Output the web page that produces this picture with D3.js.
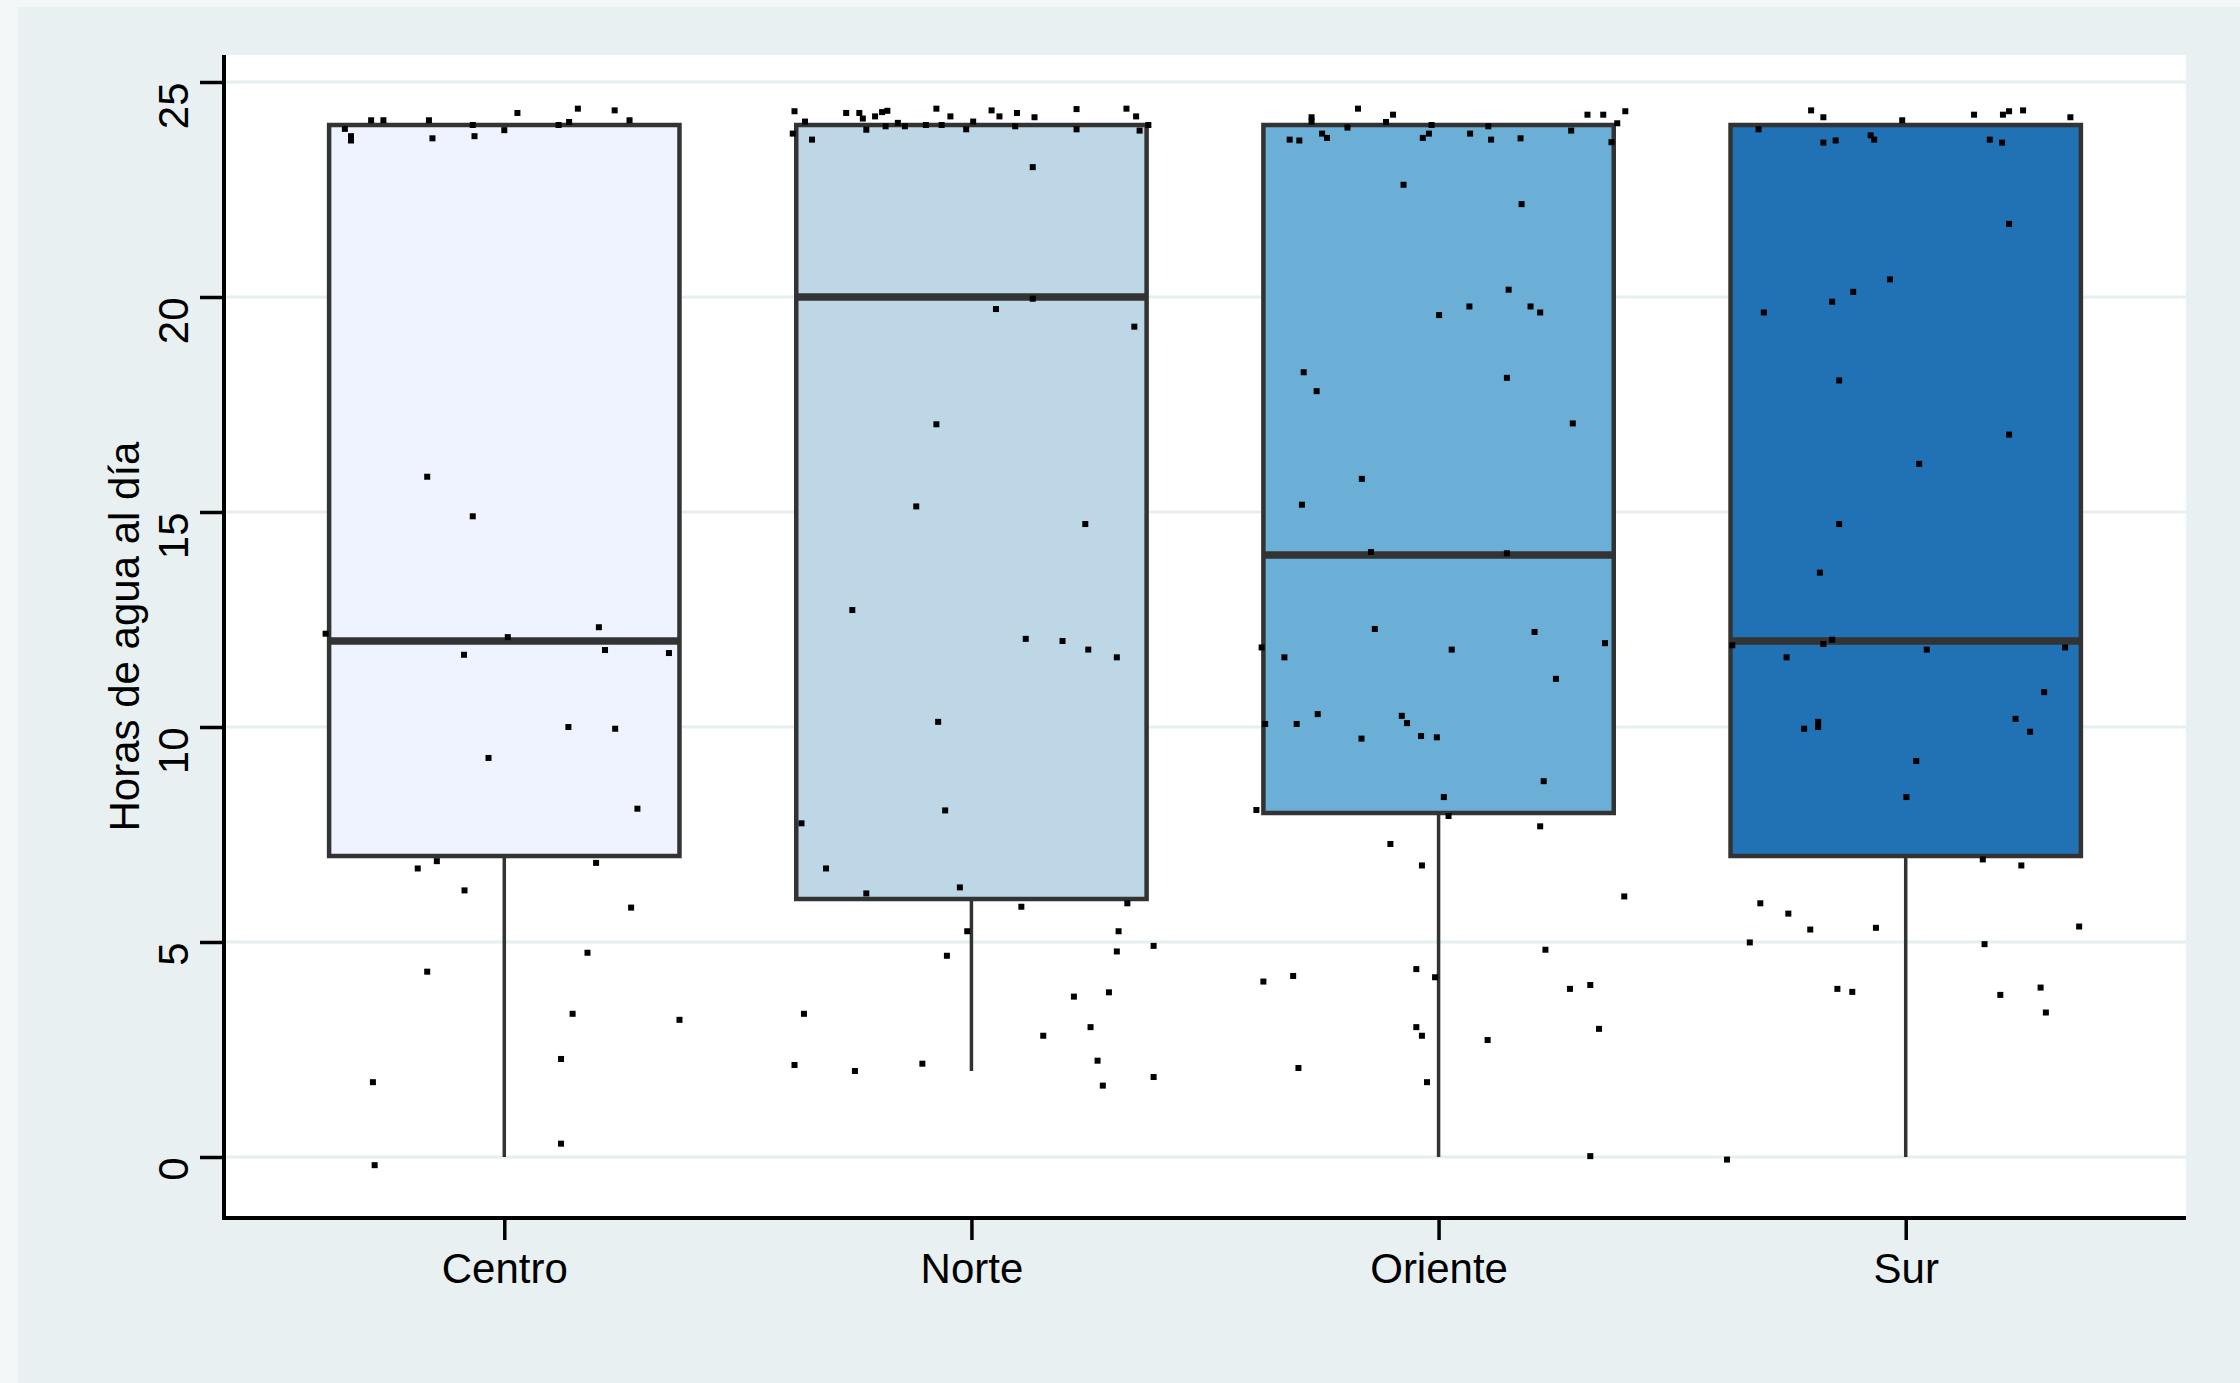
<!DOCTYPE html>
<html>
<head>
<meta charset="utf-8">
<script src="https://cdn.jsdelivr.net/npm/d3@7"></script>
<style>
  html, body { margin: 0; padding: 0; background: #f3f7f8; }
  svg { display: block; }
  text { font-family: "Liberation Sans", Arial, sans-serif; fill: #000; }
</style>
</head>
<body>
<svg id="chart" width="2240" height="1383"></svg>
<script>
// ---------- data ----------
const categories = ["Centro", "Norte", "Oriente", "Sur"];
const q1 = [7, 6, 8, 7];
const medians = [12, 20, 14, 12];
const q3 = [24, 24, 24, 24];
const whiskerLow = [0, 2, 0, 0];
const yTicks = [0, 5, 10, 15, 20, 25];
const yTitle = "Horas de agua al día";
const boxColors = ["#eff3ff", "#bdd7e7", "#6baed6", "#2171b5"];

// jittered observations: [jitter (fraction of half box width), hours]
const ptsCentro = [
  [-0.91,23.91],[-0.875,23.74],[-0.875,23.64],[-0.76,24.11],[-0.69,24.11],[-0.43,24.11],[-0.41,23.69],
  [-0.18,24.0],[-0.17,23.74],[0.0,23.88],[0.075,24.28],[0.31,24.0],[0.37,24.07],[0.42,24.38],[0.63,24.34],
  [0.715,24.11],[-0.44,15.82],[-0.18,14.9],[-1.02,12.17],[0.02,12.09],[0.54,12.32],
  [-0.23,11.68],[0.575,11.79],[0.94,11.72],[0.366,10.0],[0.633,9.96],[-0.09,9.28],[0.76,8.10],
  [-0.385,6.88],[-0.494,6.71],[0.524,6.84],[-0.227,6.20],[0.724,5.80],[0.475,4.75],[-0.44,4.31],
  [0.39,3.33],[1.0,3.19],[0.324,2.28],[-0.75,1.74],[0.324,0.31],[-0.74,-0.19]
];
const ptsNorte = [
  [-1.01,24.32],[-0.95,24.08],[-1.02,23.80],[-0.91,23.66],[-0.715,24.28],[-0.64,24.28],[-0.62,24.15],
  [-0.6,23.89],[-0.55,24.2],[-0.51,24.3],[-0.48,24.33],[-0.49,23.97],[-0.42,24.05],[-0.38,23.97],
  [-0.26,24.0],[-0.2,24.38],[-0.17,24.0],[-0.12,24.2],[-0.03,23.9],[0.01,24.08],[0.115,24.34],
  [0.16,24.2],[0.26,24.28],[0.25,23.97],[0.36,24.18],[0.6,24.37],[0.6,23.9],[0.885,24.38],[0.94,24.2],
  [0.96,23.87],[1.01,24.0],[0.35,23.02],[0.35,19.96],[0.14,19.72],[0.93,19.31],[-0.2,17.04],
  [-0.315,15.13],[0.65,14.72],[-0.68,12.72],[0.31,12.05],[0.52,12.0],[0.667,11.8],
  [0.83,11.62],[-0.19,10.12],[-0.15,8.06],[-0.97,7.76],[-0.83,6.71],[-0.6,6.13],[-0.066,6.27],
  [0.285,5.82],[0.89,5.90],[-0.024,5.25],[0.84,5.25],[1.04,4.91],[0.83,4.78],[-0.14,4.68],
  [0.585,3.73],[0.785,3.83],[-0.956,3.33],[0.68,3.02],[0.41,2.82],[0.72,2.24],[-1.01,2.14],
  [-0.28,2.17],[-0.665,2.0],[1.04,1.86],[0.75,1.66]
];
const ptsOriente = [
  [-0.725,24.18],[-0.725,24.08],[-0.46,24.38],[-0.26,24.24],[-0.3,24.07],[-0.52,23.94],[-0.85,23.66],
  [-0.795,23.64],[-0.665,23.8],[-0.637,23.7],[-0.04,24.0],[-0.09,23.7],[-0.055,23.8],[0.18,23.8],
  [0.284,23.97],[0.3,23.66],[0.468,23.69],[0.757,23.87],[0.85,24.24],[0.94,24.24],[1.066,24.32],
  [1.02,24.04],[0.987,23.6],[-0.2,22.61],[0.474,22.16],[0.4,20.17],[0.176,19.78],[0.525,19.78],
  [0.58,19.64],[0.003,19.58],[-0.77,18.25],[-0.696,17.81],[0.39,18.12],[0.766,17.06],[-0.438,15.77],
  [-0.78,15.17],[-0.386,14.07],[0.39,14.04],[-0.364,12.28],[0.548,12.21],[0.95,11.95],[-1.01,11.85],
  [0.075,11.8],[-0.88,11.62],[0.67,11.12],[-0.69,10.3],[-0.99,10.07],[-0.81,10.07],[-0.21,10.26],
  [-0.18,10.09],[-0.44,9.73],[-0.1,9.79],[-0.01,9.76],[0.6,8.74],[0.03,8.37],[-1.04,8.07],
  [0.057,7.93],[0.58,7.69],[-0.275,7.28],[-0.095,6.78],[1.06,6.06],[0.61,4.82],[-0.127,4.37],
  [-0.02,4.18],[-0.83,4.21],[-1.0,4.08],[0.75,3.91],[0.866,4.0],[-0.127,3.02],[-0.095,2.82],
  [0.916,2.98],[0.28,2.72],[-0.8,2.07],[-0.066,1.74],[0.866,0.02]
];
const ptsSur = [
  [-0.54,24.34],[-0.47,24.18],[-0.02,24.11],[0.39,24.24],[0.555,24.24],[0.59,24.32],[0.67,24.34],
  [0.94,24.18],[-0.84,23.9],[-0.47,23.59],[-0.4,23.64],[-0.2,23.76],[-0.18,23.66],[0.48,23.66],
  [0.55,23.59],[0.59,21.7],[-0.09,20.41],[-0.3,20.12],[-0.42,19.89],[-0.81,19.64],[-0.38,18.06],
  [0.59,16.8],[0.077,16.12],[-0.38,14.72],[-0.49,13.59],[-0.42,12.03],[-0.47,11.93],[-0.99,11.9],
  [0.12,11.8],[0.91,11.85],[-0.68,11.62],[0.79,10.81],[0.627,10.19],[0.71,9.89],[-0.5,10.12],
  [-0.5,10.0],[-0.58,9.96],[0.06,9.21],[0.004,8.37],[0.44,6.92],[0.66,6.78],[-0.83,5.9],
  [-0.67,5.66],[-0.545,5.29],[-0.17,5.33],[0.99,5.36],[-0.89,4.99],[0.45,4.95],[-0.39,3.91],
  [-0.305,3.84],[0.54,3.77],[0.77,3.94],[0.8,3.36],[-1.02,-0.06]
];
const pointSets = [ptsCentro, ptsNorte, ptsOriente, ptsSur];

// ---------- layout ----------
const W = 2240, H = 1383;
const plot = { left: 224, right: 2186, top: 55, bottom: 1218 };

const svg = d3.select("#chart");

// outer backgrounds
svg.append("rect").attr("x", 0).attr("y", 0).attr("width", W).attr("height", H).attr("fill", "#f3f7f8");
svg.append("rect").attr("x", 18).attr("y", 7).attr("width", W - 18).attr("height", H - 7).attr("fill", "#e8f0f2");
svg.append("rect")
  .attr("x", plot.left).attr("y", plot.top)
  .attr("width", plot.right - plot.left).attr("height", plot.bottom - plot.top)
  .attr("fill", "#ffffff");

const x = d3.scalePoint().domain(categories).range([plot.left, plot.right]).padding(0.6);
const y = d3.scaleLinear().domain([0, 25]).range([1157, 82]);
const boxW = x.step() * 0.75;
const half = boxW / 2;

// gridlines
svg.append("g").selectAll("line").data(yTicks).join("line")
  .attr("x1", plot.left).attr("x2", plot.right)
  .attr("y1", d => y(d)).attr("y2", d => y(d))
  .attr("stroke", "#e5eef0").attr("stroke-width", 3);

// boxes
const stats = categories.map((c, i) => ({
  cat: c, q1: q1[i], med: medians[i], q3: q3[i], lo: whiskerLow[i], color: boxColors[i]
}));
const gb = svg.append("g");
gb.selectAll("line.whisker").data(stats).join("line")
  .attr("class", "whisker")
  .attr("x1", d => x(d.cat)).attr("x2", d => x(d.cat))
  .attr("y1", d => y(d.q1)).attr("y2", d => y(d.lo))
  .attr("stroke", "#333333").attr("stroke-width", 3.5);
gb.selectAll("rect.box").data(stats).join("rect")
  .attr("class", "box")
  .attr("x", d => x(d.cat) - half).attr("width", boxW)
  .attr("y", d => y(d.q3)).attr("height", d => y(d.q1) - y(d.q3))
  .attr("fill", d => d.color).attr("stroke", "#333333").attr("stroke-width", 4.5);
gb.selectAll("line.median").data(stats).join("line")
  .attr("class", "median")
  .attr("x1", d => x(d.cat) - half).attr("x2", d => x(d.cat) + half)
  .attr("y1", d => y(d.med)).attr("y2", d => y(d.med))
  .attr("stroke", "#333333").attr("stroke-width", 7.5);

// points
const allPts = [];
pointSets.forEach((set, i) => set.forEach(p => allPts.push({ cat: categories[i], j: p[0], v: p[1] })));
const ps = 6;
svg.append("g").selectAll("rect").data(allPts).join("rect")
  .attr("x", d => x(d.cat) + d.j * half - ps / 2)
  .attr("y", d => y(d.v) - ps / 2)
  .attr("width", ps).attr("height", ps)
  .attr("fill", "#000");

// y axis
const yAxis = svg.append("g")
  .attr("transform", `translate(${plot.left},0)`)
  .call(d3.axisLeft(y).tickValues(yTicks).tickSize(24).tickSizeOuter(0).tickFormat(d3.format("d")));
yAxis.select(".domain").remove();
yAxis.selectAll(".tick line").attr("stroke", "#000").attr("stroke-width", 3.5);
yAxis.selectAll(".tick text")
  .attr("transform", "rotate(-90)")
  .attr("x", 0).attr("y", -36).attr("dy", 0)
  .attr("text-anchor", "end")
  .style("font-size", "42px")
  .style("font-family", '"Liberation Sans", Arial, sans-serif')
  .attr("fill", "#000");

// x axis
const xAxis = svg.append("g")
  .attr("transform", `translate(0,${plot.bottom})`)
  .call(d3.axisBottom(x).tickSize(22).tickSizeOuter(0));
xAxis.select(".domain").remove();
xAxis.selectAll(".tick line").attr("stroke", "#000").attr("stroke-width", 3.5);
xAxis.selectAll(".tick text")
  .attr("y", 65).attr("dy", 0)
  .style("font-size", "42px")
  .style("font-family", '"Liberation Sans", Arial, sans-serif')
  .attr("fill", "#000");

// axis lines
svg.append("line")
  .attr("x1", plot.left).attr("x2", plot.left)
  .attr("y1", plot.top).attr("y2", plot.bottom + 2)
  .attr("stroke", "#000").attr("stroke-width", 4);
svg.append("line")
  .attr("x1", plot.left - 2).attr("x2", plot.right)
  .attr("y1", plot.bottom).attr("y2", plot.bottom)
  .attr("stroke", "#000").attr("stroke-width", 4);

// y title
svg.append("text")
  .attr("transform", `translate(139,${(plot.top + plot.bottom) / 2}) rotate(-90)`)
  .attr("text-anchor", "middle")
  .style("font-size", "42px")
  .text(yTitle);
</script>
</body>
</html>
